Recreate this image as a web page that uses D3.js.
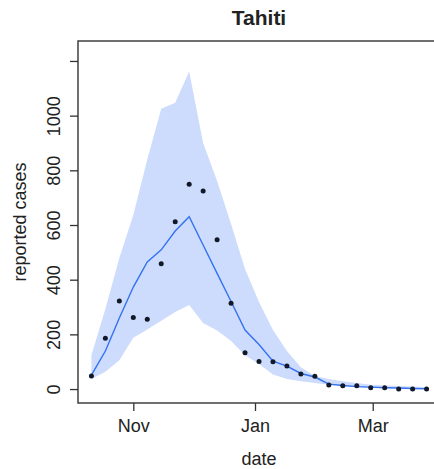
<!DOCTYPE html>
<html>
<head>
<meta charset="utf-8">
<script src="https://cdn.jsdelivr.net/npm/d3@7"></script>
<style>
  body { margin: 0; background: #fff; }
  svg { display: block; font-family: "Liberation Sans", Arial, sans-serif; }
</style>
</head>
<body>
<div id="chart"></div>
<script>
// weekly reports, Tahiti
const weeks = [
  '2013-10-11', '2013-10-18', '2013-10-25', '2013-11-01', '2013-11-08',
  '2013-11-15', '2013-11-22', '2013-11-29', '2013-12-06', '2013-12-13',
  '2013-12-20', '2013-12-27', '2014-01-03', '2014-01-10', '2014-01-17',
  '2014-01-24', '2014-01-31', '2014-02-07', '2014-02-14', '2014-02-21',
  '2014-02-28', '2014-03-07', '2014-03-14', '2014-03-21', '2014-03-28',
];
const reported = [48, 186, 322, 262, 255, 458, 612, 749, 724, 546, 314, 133, 101,
  100, 84, 55, 47, 15, 12, 12, 5, 5, 0, 0, 0];
const fitMedian = [51, 139, 260, 373, 465, 509, 578, 630, 527, 423, 320, 216, 163,
  102, 84, 57, 44, 18, 13, 9, 7, 5, 4, 2, 1];
const fitUpper = [124, 293, 479, 637, 840, 1025, 1047, 1161, 900, 761, 604, 439, 318,
  216, 139, 80, 48, 37, 29, 22, 16, 13, 11, 9, 7];
const fitLower = [37, 63, 105, 188, 218, 250, 282, 307, 242, 214, 176, 124, 92,
  53, 37, 29, 22, 16, 11, 7, 5, 4, 4, 2, 0];
const yTicks = [0, 200, 400, 600, 800, 1000, 1200];
const xTicks = ['2013-11-01', '2014-01-01', '2014-03-01'];

const width = 434;
const height = 469;
const box = { left: 78, right: 440, top: 41, bottom: 403 };

const parse = d3.utcParse('%Y-%m-%d');
const dat = weeks.map((w, i) => ({
  date: parse(w),
  obs: reported[i],
  mid: fitMedian[i],
  hi: fitUpper[i],
  lo: fitLower[i],
}));

// R style 4% padding on the date range
const ext = d3.extent(dat, (d) => d.date);
const pad = (ext[1] - ext[0]) * 0.04;
const x = d3.scaleUtc()
  .domain([new Date(+ext[0] - pad), new Date(+ext[1] + pad)])
  .range([box.left, box.right]);

const y = d3.scaleLinear()
  .domain([-51, 1273])
  .range([box.bottom, box.top]);

const svg = d3.select('#chart')
  .append('svg')
  .attr('width', width)
  .attr('height', height);

svg.append('path')
  .datum(dat)
  .attr('fill', '#cddcfc')
  .attr('d', d3.area()
    .x((d) => x(d.date))
    .y0((d) => y(d.lo))
    .y1((d) => y(d.hi)));

svg.append('path')
  .datum(dat)
  .attr('fill', 'none')
  .attr('stroke', '#3372f2')
  .attr('stroke-width', 1.4)
  .attr('d', d3.line()
    .x((d) => x(d.date))
    .y((d) => y(d.mid)));

svg.append('g')
  .selectAll('circle')
  .data(dat)
  .join('circle')
  .attr('cx', (d) => x(d.date))
  .attr('cy', (d) => y(d.obs))
  .attr('r', 2.5)
  .attr('fill', '#111827');

// box
svg.append('rect')
  .attr('x', box.left)
  .attr('y', box.top)
  .attr('width', box.right - box.left)
  .attr('height', box.bottom - box.top)
  .attr('fill', 'none')
  .attr('stroke', '#333')
  .attr('stroke-width', 1.4);

const yAxis = d3.axisLeft(y)
  .tickValues(yTicks)
  .tickSize(8)
  .tickFormat((d) => (d === 1200 ? '' : d));

const gy = svg.append('g')
  .attr('transform', `translate(${box.left}, 0)`)
  .call(yAxis);
gy.select('.domain').remove();
gy.selectAll('line').attr('stroke', '#333').attr('stroke-width', 1.3);
gy.selectAll('text')
  .attr('x', null)
  .attr('dy', null)
  .attr('text-anchor', 'middle')
  .attr('transform', 'translate(-18, 0) rotate(-90)')
  .attr('fill', '#222')
  .style('font-size', '18px')
  .style('font-family', '"Liberation Sans", Arial, sans-serif');

const xAxis = d3.axisBottom(x)
  .tickValues(xTicks.map(parse))
  .tickSize(8)
  .tickFormat(d3.utcFormat('%b'));

const gx = svg.append('g')
  .attr('transform', `translate(0, ${box.bottom})`)
  .call(xAxis);
gx.select('.domain').remove();
gx.selectAll('line').attr('stroke', '#333').attr('stroke-width', 1.3);
gx.selectAll('text')
  .attr('y', 29)
  .attr('dy', null)
  .attr('fill', '#222')
  .style('font-size', '18px')
  .style('font-family', '"Liberation Sans", Arial, sans-serif');

svg.append('text')
  .attr('x', (box.left + box.right) / 2)
  .attr('y', 25)
  .attr('text-anchor', 'middle')
  .style('font-size', '21px')
  .style('font-weight', 'bold')
  .attr('fill', '#222')
  .text('Tahiti');

svg.append('text')
  .attr('x', (box.left + box.right) / 2)
  .attr('y', 465)
  .attr('text-anchor', 'middle')
  .style('font-size', '18px')
  .attr('fill', '#222')
  .text('date');

svg.append('text')
  .attr('transform', `translate(26, ${(box.top + box.bottom) / 2}) rotate(-90)`)
  .attr('text-anchor', 'middle')
  .style('font-size', '18px')
  .attr('fill', '#222')
  .text('reported cases');
</script>
</body>
</html>
